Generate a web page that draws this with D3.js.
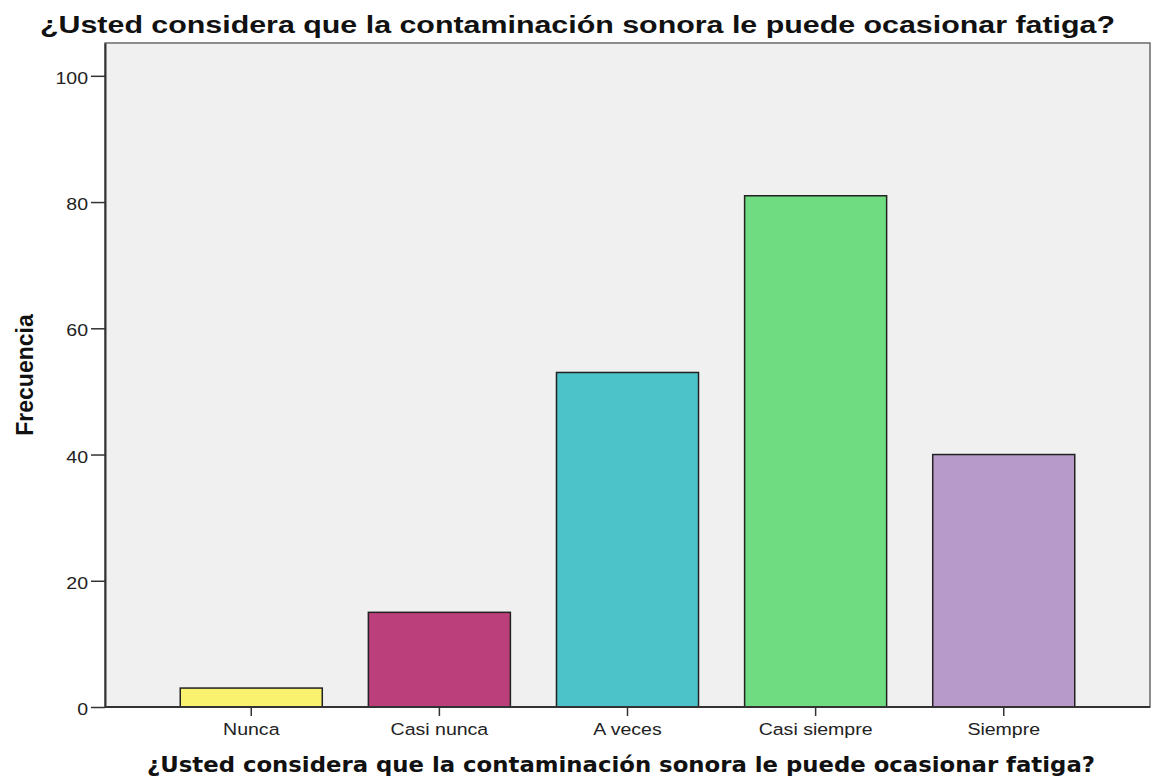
<!DOCTYPE html>
<html>
<head>
<meta charset="utf-8">
<script src="https://cdn.jsdelivr.net/npm/d3@7"></script>
<style>
  body { margin: 0; background: #fff; }
  svg { display: block; }
</style>
</head>
<body>
<div id="chart"></div>
<script>
// ----------------------------------------
// DATA
// ----------------------------------------
const categories = ["Nunca", "Casi nunca", "A veces", "Casi siempre", "Siempre"];
const counts = [3, 15, 53, 81, 40];
const barColors = ["#F8F26F", "#BA3F7B", "#4BC3C8", "#6FDC82", "#B89ACA"];
const yTicks = [0, 20, 40, 60, 80, 100];
const titleText = "¿Usted considera que la contaminación sonora le puede ocasionar fatiga?";
const yLabel = "Frecuencia";

// ----------------------------------------
// SETUP
// ----------------------------------------
const width = 1152, height = 780;
const plot = { left: 105, right: 1150, top: 43, bottom: 707 };
const stretch = 1.15; // text in the source is a little wide

const svg = d3.select("#chart")
  .append("svg")
  .attr("width", width)
  .attr("height", height);

const x = d3.scaleBand()
  .domain(categories)
  .range([plot.left, plot.right])
  .paddingInner(0.245)
  .paddingOuter(0.4);

const y = d3.scaleLinear()
  .domain([0, 105.2])
  .range([plot.bottom, plot.top]);

// plot background + frame
svg.append("rect")
  .attr("x", plot.left)
  .attr("y", plot.top)
  .attr("width", plot.right - plot.left)
  .attr("height", plot.bottom - plot.top)
  .attr("fill", "#F0F0F0")
  .attr("stroke", "#6a6a6a")
  .attr("stroke-width", 1.5);

// ----------------------------------------
// BARS
// ----------------------------------------
svg.selectAll(".bar")
  .data(categories)
  .join("rect")
  .attr("class", "bar")
  .attr("x", d => x(d))
  .attr("y", (d, i) => y(counts[i]))
  .attr("width", x.bandwidth())
  .attr("height", (d, i) => y(0) - y(counts[i]))
  .attr("fill", (d, i) => barColors[i])
  .attr("stroke", "#222")
  .attr("stroke-width", 1.5);

// ----------------------------------------
// AXES
// ----------------------------------------
function styleTicks(g) {
  g.selectAll(".tick line").attr("stroke", "#333").attr("stroke-width", 1.5);
  g.selectAll(".tick text")
    .attr("fill", "#222")
    .style("font-family", "Liberation Sans, Arial, sans-serif")
    .style("font-size", "17px")
    .each(function() {
      const t = d3.select(this);
      const tx = +t.attr("x") || 0;
      t.attr("x", 0).attr("transform", `translate(${tx},0) scale(${stretch},1)`);
    });
}

const yAxis = svg.append("g")
  .attr("transform", `translate(${plot.left},0)`)
  .call(d3.axisLeft(y).tickValues(yTicks).tickSize(14).tickPadding(3).tickSizeOuter(0));
yAxis.select(".domain").attr("stroke", "#333").attr("stroke-width", 2);
yAxis.selectAll(".tick text").attr("dy", "0.45em");
styleTicks(yAxis);

const xAxis = svg.append("g")
  .attr("transform", `translate(0,${plot.bottom})`)
  .call(d3.axisBottom(x).tickSize(9).tickPadding(7).tickSizeOuter(0));
xAxis.select(".domain")
  .attr("d", `M${plot.left},0H${plot.right}`)
  .attr("stroke", "#333").attr("stroke-width", 2);
styleTicks(xAxis);

// ----------------------------------------
// TITLES
// ----------------------------------------
svg.append("text")
  .attr("x", 40)
  .attr("y", 33)
  .attr("textLength", 1075)
  .attr("lengthAdjust", "spacingAndGlyphs")
  .attr("fill", "#111")
  .style("font-family", "Liberation Sans, Arial, sans-serif")
  .style("font-weight", "bold")
  .style("font-size", "23px")
  .text(titleText);

svg.append("text")
  .attr("x", 147)
  .attr("y", 772)
  .attr("textLength", 948)
  .attr("lengthAdjust", "spacingAndGlyphs")
  .attr("fill", "#111")
  .style("font-family", "DejaVu Sans, Verdana, sans-serif")
  .style("font-weight", "bold")
  .style("font-size", "21px")
  .text(titleText);

svg.append("text")
  .attr("transform", `translate(33,375) rotate(-90)`)
  .attr("text-anchor", "middle")
  .attr("fill", "#111")
  .style("font-family", "Liberation Sans, Arial, sans-serif")
  .style("font-weight", "bold")
  .style("font-size", "23px")
  .text(yLabel);
</script>
</body>
</html>
